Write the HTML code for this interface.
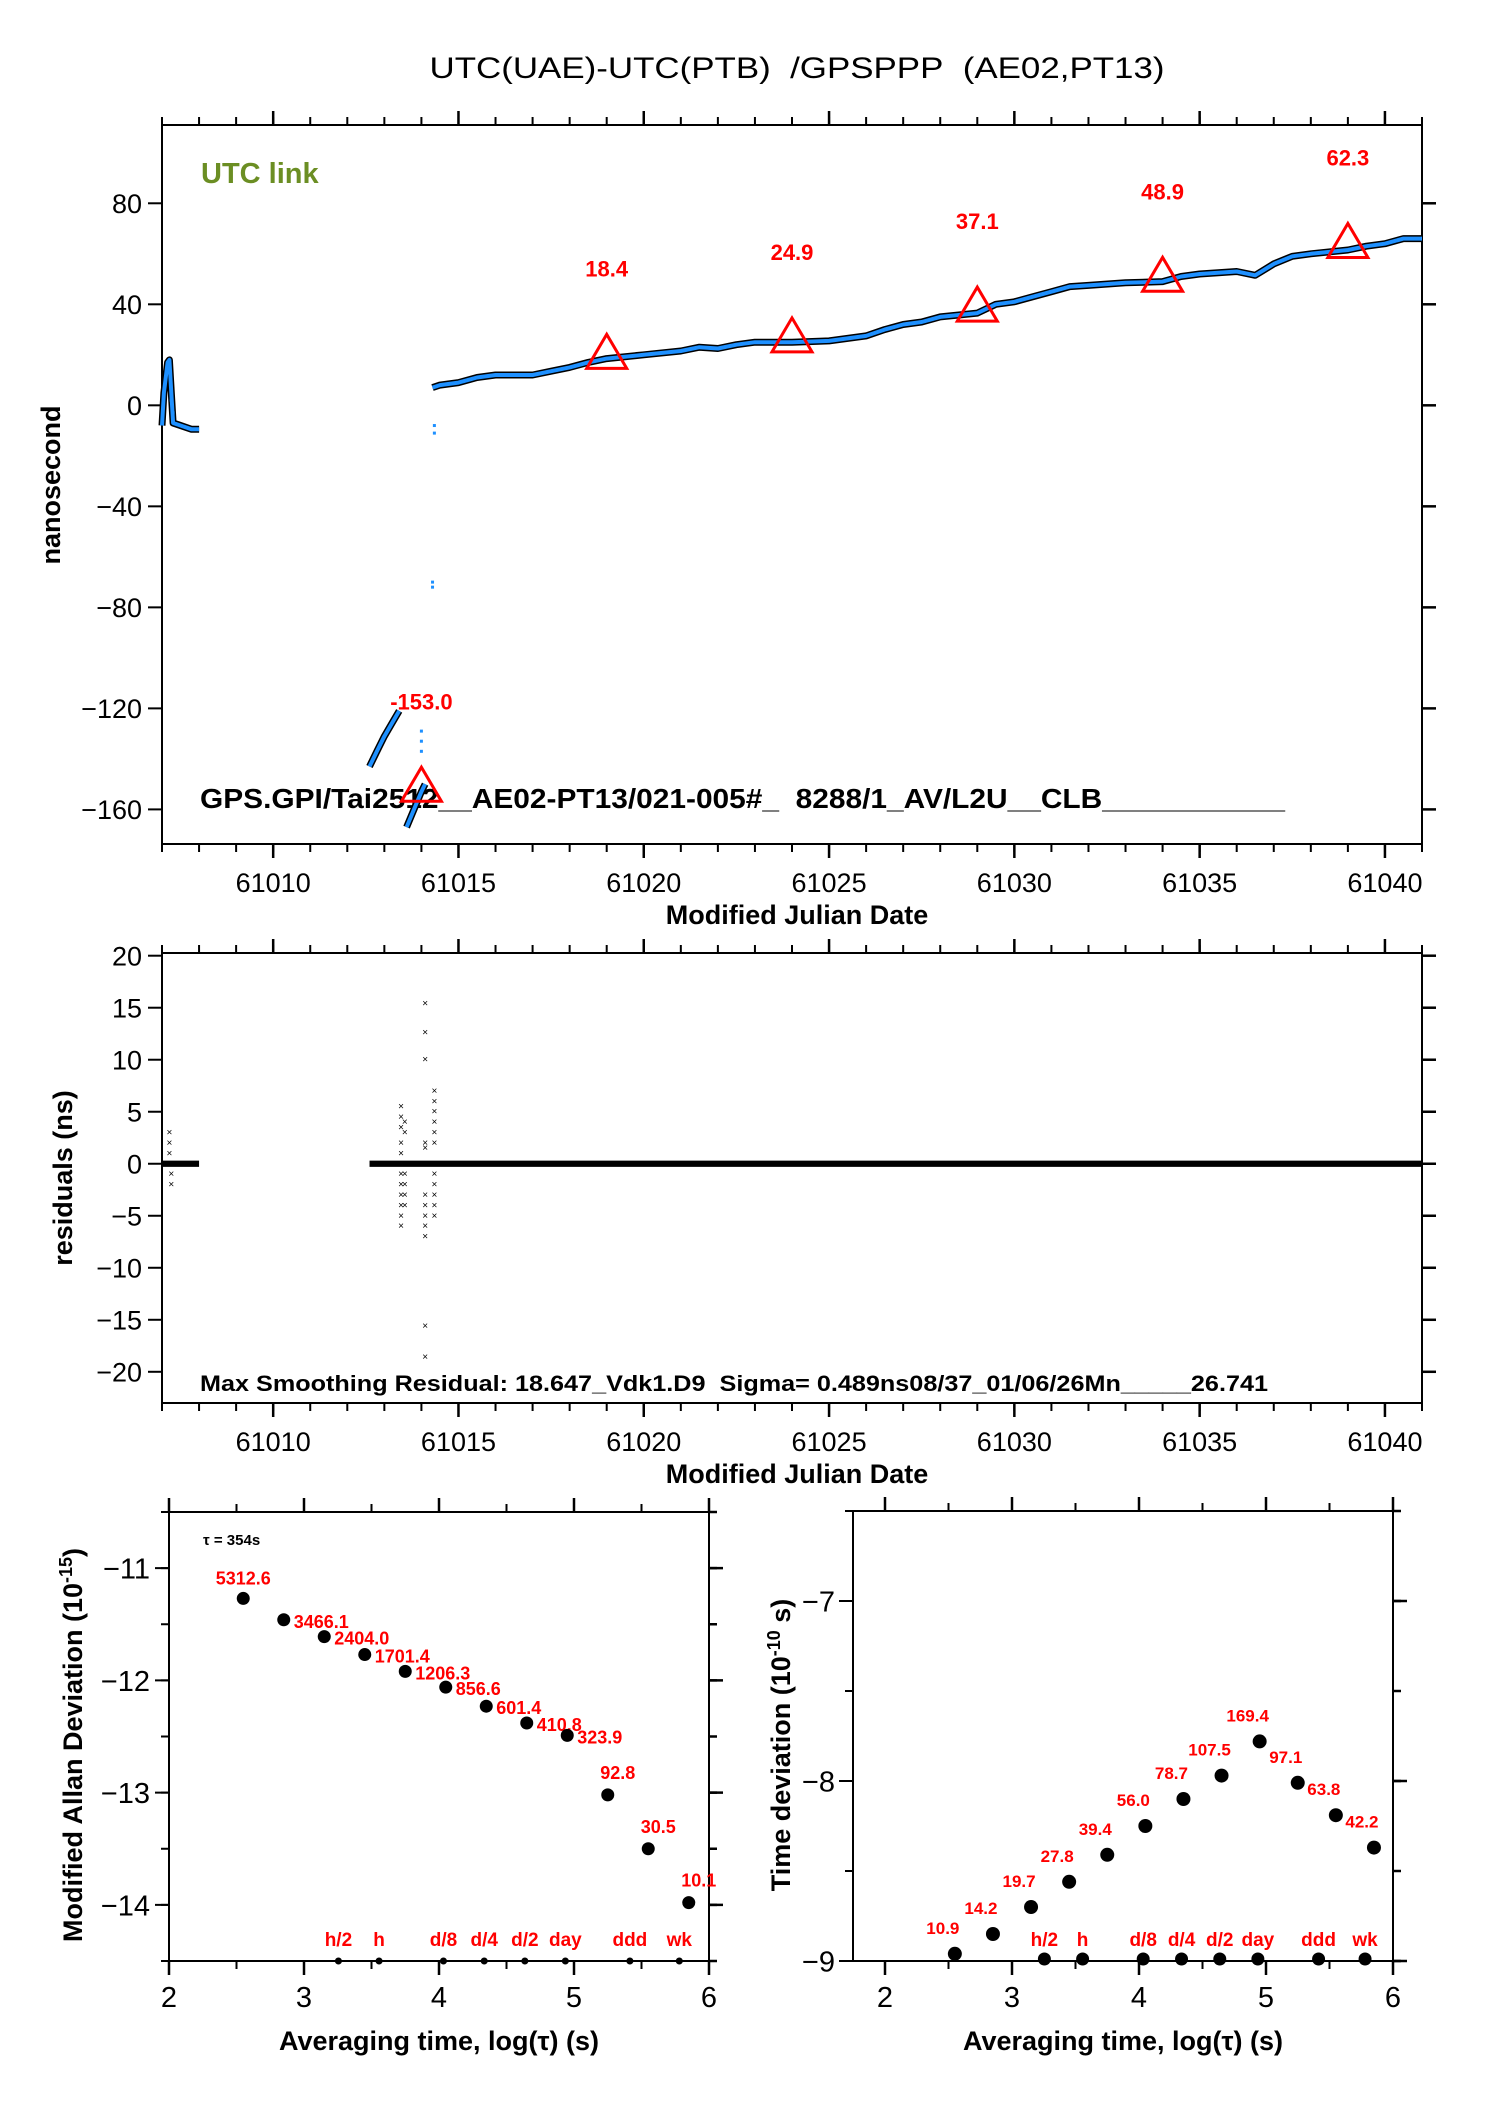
<!DOCTYPE html>
<html><head><meta charset="utf-8"><style>
html,body{margin:0;padding:0;background:#fff}
svg{display:block}
text{font-family:"Liberation Sans",sans-serif}
</style></head>
<body>
<svg id="svg" width="1488" height="2105" viewBox="0 0 1488 2105" xmlns="http://www.w3.org/2000/svg">
<rect width="1488" height="2105" fill="#fff"/>
<text x="797" y="78" font-size="30" text-anchor="middle" textLength="735" lengthAdjust="spacingAndGlyphs">UTC(UAE)-UTC(PTB)&#160;&#160;/GPSPPP&#160;&#160;(AE02,PT13)</text>
<text x="201" y="183" font-size="29" font-weight="bold" fill="#6b8e23">UTC link</text>
<text transform="translate(60,485) rotate(-90)" font-size="27" font-weight="bold" text-anchor="middle">nanosecond</text>
<text x="797" y="924" font-size="27" font-weight="bold" text-anchor="middle">Modified Julian Date</text>
<text x="200" y="808" font-size="28" font-weight="bold" textLength="1085" lengthAdjust="spacingAndGlyphs">GPS.GPI/Tai2512__AE02-PT13/021-005#_&#160; 8288/1_AV/L2U__CLB___________</text>
<text transform="translate(72,1178) rotate(-90)" font-size="27" font-weight="bold" text-anchor="middle">residuals (ns)</text>
<text x="797" y="1483" font-size="27" font-weight="bold" text-anchor="middle">Modified Julian Date</text>
<text x="200" y="1391" font-size="22" font-weight="bold" textLength="1068" lengthAdjust="spacingAndGlyphs">Max Smoothing Residual: 18.647_Vdk1.D9&#160; Sigma= 0.489ns08/37_01/06/26Mn_____26.741</text>
<text x="439" y="2050" font-size="27" font-weight="bold" text-anchor="middle">Averaging time, log(τ) (s)</text>
<text x="1123" y="2050" font-size="27" font-weight="bold" text-anchor="middle">Averaging time, log(τ) (s)</text>
<text transform="translate(82,1745) rotate(-90)" font-size="27" font-weight="bold" text-anchor="middle">Modified Allan Deviation (10<tspan dy="-10" font-size="18">-15</tspan><tspan dy="10">)</tspan></text>
<text transform="translate(790,1745) rotate(-90)" font-size="27" font-weight="bold" text-anchor="middle">Time deviation (10<tspan dy="-10" font-size="18">-10</tspan><tspan dy="10"> s)</tspan></text>
<text x="203" y="1545" font-size="15" font-weight="bold">τ = 354s</text>
</svg>
<script>
// ---------- data ----------
const mjdTicks=[61010,61015,61020,61025,61030,61035,61040];
const topYTicks=[-160,-120,-80,-40,0,40,80];
const resYTicks=[-20,-15,-10,-5,0,5,10,15,20];
const seg1X=[61007.0,61007.05,61007.15,61007.2,61007.25,61007.3,61007.5,61007.8,61008.0];
const seg1Y=[-8,5,17,18,5,-7,-8,-9.5,-9.5];
const seg2X=[61012.6,61012.8,61013.0,61013.2,61013.4];
const seg2Y=[-143,-137,-131,-126,-121];
const seg3X=[61013.6,61013.8,61014.0,61014.1];
const seg3Y=[-167,-160,-153,-150];
const seg4X=[61014.3,61014.5,61015,61015.5,61016,61016.5,61017,61017.5,61018,61018.5,61019,61020,61021,61021.5,61022,61022.5,61023,61024,61025,61026,61026.5,61027,61027.5,61028,61029,61029.5,61030,61030.5,61031,61031.5,61032,61033,61034,61034.5,61035,61035.5,61036,61036.5,61037,61037.5,61038,61039,61039.5,61040,61040.5,61041];
const seg4Y=[7,8,9,11,12,12,12,13.5,15,17,18.5,20,21.5,23,22.5,24,25,25,25.5,27.5,30,32,33,35,36.5,40,41,43,45,47,47.5,48.5,49,51,52,52.5,53,51.5,56,59,60,61.5,63,64,66,66];
const outlierX=[61014.35,61014.35,61014.3,61014.3,61014.0,61014.0,61014.0,61007.25,61007.3];
const outlierY=[-8,-11,-70,-72,-129,-133,-137,2,-3];
const triX=[61014,61019,61024,61029,61034,61039];
const triVal=[-153.0,18.4,24.9,37.1,48.9,62.3];
const bandStart=[61007.0,61012.6];
const bandEnd=[61008.0,61041.0];
const bandHalf=[0.3,0.3];
const resOutX=[61007.2,61007.2,61007.2,61007.25,61007.25,61013.45,61013.45,61013.45,61013.45,61013.45,61013.45,61013.45,61013.45,61013.45,61013.45,61013.45,61013.55,61013.55,61013.55,61013.55,61013.55,61013.55,61014.1,61014.1,61014.1,61014.1,61014.1,61014.1,61014.1,61014.1,61014.1,61014.1,61014.1,61014.1,61014.35,61014.35,61014.35,61014.35,61014.35,61014.35,61014.35,61014.35,61014.35,61014.35,61014.35];
const resOutY=[3,2,1,-1,-2,5.5,4.5,3.5,2,1,-1,-2,-3,-4,-5,-6,4,3,-1,-2,-3,-4,15.4,12.6,10,-15.6,-18.6,-7,-6,-5,-4,-3,1.5,2,7,6,5,4,3,2,-1,-2,-3,-4,-5];
const logTau=[2.55,2.85,3.15,3.45,3.75,4.05,4.35,4.65,4.95,5.25,5.55,5.85];
const adevY=[-11.27,-11.46,-11.61,-11.77,-11.92,-12.06,-12.23,-12.38,-12.49,-13.02,-13.5,-13.98];
const adevLbl=["5312.6","3466.1","2404.0","1701.4","1206.3","856.6","601.4","410.8","323.9","92.8","30.5","10.1"];
const tdevY=[-8.96,-8.85,-8.70,-8.56,-8.41,-8.25,-8.10,-7.97,-7.78,-8.01,-8.19,-8.37];
const tdevLbl=["10.9","14.2","19.7","27.8","39.4","56.0","78.7","107.5","169.4","97.1","63.8","42.2"];
const markTau=[3.255,3.556,4.033,4.335,4.636,4.936,5.414,5.78];
const markLbl=["h/2","h","d/8","d/4","d/2","day","ddd","wk"];
const logTicks=[2,3,4,5,6];
const adevTicks=[-14,-13,-12,-11];
const tdevTicks=[-9,-8,-7];

// ---------- helpers ----------
const NS='http://www.w3.org/2000/svg';
const svg=document.getElementById('svg');
function mk(tag,attrs,parent){const e=document.createElementNS(NS,tag);for(const k in attrs)e.setAttribute(k,attrs[k]);(parent||svg).appendChild(e);return e;}
function lin(d0,d1,r0,r1){return v=>r0+(v-d0)*(r1-r0)/(d1-d0);}
const minus=s=>String(s).replace('-','\u2212');

function frame(name,L,T,R,B,xs,ys,xMaj,xMin,yMaj,yMin,xLblY,yLblX,xfmt,fs){
  const g=mk('g',{});
  
  
  const r=mk('rect',{x:L,y:T,width:R-L,height:B-T,fill:'none',stroke:'#000','stroke-width':2},g);
  
  
  xMin.forEach(v=>{const x=xs(v);mk('line',{x1:x,x2:x,y1:B,y2:B+8,stroke:'#000','stroke-width':2},g);mk('line',{x1:x,x2:x,y1:T,y2:T-8,stroke:'#000','stroke-width':2},g);});
  xMaj.forEach(v=>{const x=xs(v);mk('line',{x1:x,x2:x,y1:B,y2:B+14,stroke:'#000','stroke-width':2.5},g);mk('line',{x1:x,x2:x,y1:T,y2:T-14,stroke:'#000','stroke-width':2.5},g);
    const t=mk('text',{x:x,y:xLblY,'font-size':fs,'text-anchor':'middle'},g);t.textContent=xfmt(v);
    
    });
  yMin.forEach(v=>{const y=ys(v);mk('line',{x1:L,x2:L-8,y1:y,y2:y,stroke:'#000','stroke-width':2},g);mk('line',{x1:R,x2:R+8,y1:y,y2:y,stroke:'#000','stroke-width':2.5},g);});
  yMaj.forEach(v=>{const y=ys(v);mk('line',{x1:L,x2:L-14,y1:y,y2:y,stroke:'#000','stroke-width':2},g);mk('line',{x1:R,x2:R+14,y1:y,y2:y,stroke:'#000','stroke-width':2.5},g);
    const t=mk('text',{x:yLblX,y:y+fs*0.36,'font-size':fs,'text-anchor':'end'},g);t.textContent=minus(v);
    
    });
  return g;
}
function range(a,b,s){const o=[];for(let v=a;v<=b+1e-9;v+=s)o.push(+v.toFixed(4));return o;}

// ---------- top plot ----------
const tx=lin(61007,61041,162,1422), ty=lin(-173.7,111,844,125);
frame('top-plot',162,125,1422,844,tx,ty,mjdTicks,range(61007,61041,1),topYTicks,[],892,142,v=>v,27);
const series=[[seg1X,seg1Y],[seg2X,seg2Y],[seg3X,seg3Y],[seg4X,seg4Y]];
series.forEach((s,i)=>{
  const pts=s[0].map((x,j)=>tx(x).toFixed(1)+','+ty(s[1][j]).toFixed(1)).join(' ');
  const b=mk('polyline',{points:pts,fill:'none',stroke:'#000','stroke-width':7,'stroke-linejoin':'round'});
  
  
  const l=mk('polyline',{points:pts,fill:'none',stroke:'#1e90ff','stroke-width':4,'stroke-linejoin':'round'});
  
  
});
outlierX.forEach((x,i)=>{
  const r=mk('rect',{x:tx(x)-1.5,y:ty(outlierY[i])-1.5,width:3,height:3,fill:'#1e90ff'});
  
  
});
triX.forEach((x,i)=>{
  const cx=tx(x), cy=ty(triVal[i]+1);
  const p=mk('polygon',{points:`${cx-20},${cy+12} ${cx+20},${cy+12} ${cx},${cy-22}`,fill:'none',stroke:'#f00','stroke-width':3});
  
  
  const t=mk('text',{x:cx,y:ty(triVal[i]+35)+6,'font-size':22,'font-weight':'bold',fill:'#f00','text-anchor':'middle'});
  t.textContent=triVal[i].toFixed(1);
  
  
});

// ---------- residual plot ----------
const rx=lin(61007,61041,162,1422), ry=lin(-23,20.26,1403,953);
frame('residual-plot',162,953,1422,1403,rx,ry,mjdTicks,range(61007,61041,1),resYTicks,[],1451,142,v=>v,27);
bandStart.forEach((s,i)=>{
  const r=mk('rect',{x:rx(s),y:ry(bandHalf[i]),width:rx(bandEnd[i])-rx(s),height:ry(-bandHalf[i])-ry(bandHalf[i]),fill:'#000'});
  
  
});
resOutX.forEach((x,i)=>{
  const t=mk('text',{x:rx(x),y:ry(resOutY[i])+3,'font-size':10,'text-anchor':'middle'});
  t.textContent='×';
  
  
});

// ---------- ADEV ----------
const ax=lin(2,6,169,709), ay=lin(-14.5,-10.5,1961,1512);
frame('adev-plot',169,1512,709,1961,ax,ay,logTicks,range(2.5,5.5,1),adevTicks,range(-14.5,-10.5,0.5),2007,150,v=>v,29);
logTau.forEach((x,i)=>{
  const c=mk('circle',{cx:ax(x),cy:ay(adevY[i]),r:6.5,fill:'#000'});
  
  
  const first=i===0;
  const t=mk('text',{x:first?ax(x):ax(x)+10,y:first?ay(adevY[i])-14:ay(adevY[i])+(i>=9?-16:8),'font-size':18,'font-weight':'bold',fill:'#f00','text-anchor':first||i>=9?'middle':'start'});
  t.textContent=adevLbl[i];
  
  
});
markTau.forEach((x,i)=>{
  const c=mk('circle',{cx:ax(x),cy:1961,r:3.5,fill:'#000'});
  
  
  const t=mk('text',{x:ax(x),y:1946,'font-size':19,'font-weight':'bold',fill:'#f00','text-anchor':'middle'});
  t.textContent=markLbl[i];
  
  
});

// ---------- TDEV ----------
const bx=lin(2,6,885,1393), by=lin(-9,-6.5,1961,1511);
frame('tdev-plot',853,1511,1393,1961,bx,by,logTicks,range(2.5,5.5,1),tdevTicks,range(-9,-6.5,0.5),2007,835,v=>v,29);
logTau.forEach((x,i)=>{
  const c=mk('circle',{cx:bx(x),cy:by(tdevY[i]),r:7,fill:'#000'});
  
  
  const t=mk('text',{x:bx(x)-12,y:by(tdevY[i])-20,'font-size':17,'font-weight':'bold',fill:'#f00','text-anchor':'middle'});
  t.textContent=tdevLbl[i];
  
  
});
markTau.forEach((x,i)=>{
  const c=mk('circle',{cx:bx(x),cy:1959,r:6.5,fill:'#000'});
  
  
  const t=mk('text',{x:bx(x),y:1946,'font-size':19,'font-weight':'bold',fill:'#f00','text-anchor':'middle'});
  t.textContent=markLbl[i];
  
  
});
</script>
</body></html>
